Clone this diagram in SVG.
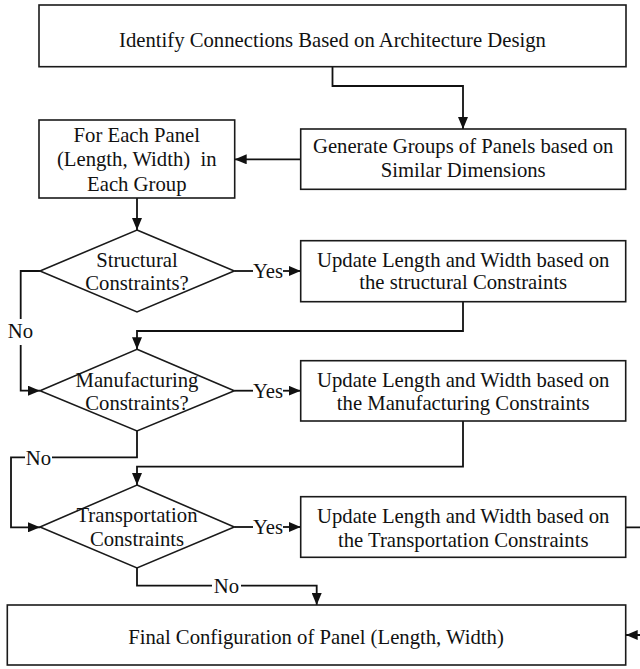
<svg xmlns="http://www.w3.org/2000/svg" width="640" height="669" viewBox="0 0 640 669">
<defs>
<style>
.box{fill:#fff;stroke:#1a1a1a;stroke-width:1.6}
.t{font-family:"Liberation Serif","Times New Roman",serif;font-size:20.7px;fill:#111;text-anchor:middle}
.c{fill:none;stroke:#111;stroke-width:1.8}
</style>
<marker id="ah" viewBox="0 0 12 10" refX="12" refY="5" markerWidth="12" markerHeight="10" markerUnits="userSpaceOnUse" orient="auto">
<path d="M0,0 L12,5 L0,10 z" fill="#111"/>
</marker>
</defs>
<rect width="640" height="669" fill="#fff"/>

<g id="connectors">
<path class="c" d="M332.5,66.7 V86 H463 V129" marker-end="url(#ah)"/>
<path class="c" d="M300.7,159.3 H234.7" marker-end="url(#ah)"/>
<path class="c" d="M137,198 V230" marker-end="url(#ah)"/>
<path class="c" d="M234.3,271 H253"/>
<path class="c" d="M283,271 H300.7" marker-end="url(#ah)"/>
<text class="t" x="268" y="278">Yes</text>
<path class="c" d="M463,301.7 V331 H137 V349.3" marker-end="url(#ah)"/>
<path class="c" d="M40,271 H20.7 V319"/>
<text class="t" x="20.5" y="337.5">No</text>
<path class="c" d="M20.7,345 V390.7 H40" marker-end="url(#ah)"/>
<path class="c" d="M234.3,390.7 H253"/>
<path class="c" d="M283,390.7 H300.7" marker-end="url(#ah)"/>
<text class="t" x="268" y="397.5">Yes</text>
<path class="c" d="M463,421 V466.7 H137 V485" marker-end="url(#ah)"/>
<path class="c" d="M137,431 V457.3 H52"/>
<text class="t" x="38.5" y="465">No</text>
<path class="c" d="M25,457.3 H11 V527.3 H40" marker-end="url(#ah)"/>
<path class="c" d="M234.3,527 H253"/>
<path class="c" d="M283,527 H300.7" marker-end="url(#ah)"/>
<text class="t" x="268" y="534">Yes</text>
<path class="c" d="M137,568 V585.7 H212"/>
<text class="t" x="226.5" y="593">No</text>
<path class="c" d="M241,585.7 H316.7 V605" marker-end="url(#ah)"/>
<path class="c" d="M625.7,527.3 H643 V635 H625.7" marker-end="url(#ah)"/>
</g>

<g id="identify">
<rect class="box" x="39" y="5" width="587" height="61.7"/>
<text class="t" x="332.5" y="46.5">Identify Connections Based on Architecture Design</text>
</g>

<g id="generate">
<rect class="box" x="300.7" y="129" width="325" height="60.3"/>
<text class="t" x="463.2" y="152.7">Generate Groups of Panels based on</text>
<text class="t" x="463.2" y="176.7">Similar Dimensions</text>
</g>

<g id="foreach">
<rect class="box" x="39" y="120" width="195.7" height="78"/>
<text class="t" x="136.8" y="141.7">For Each Panel</text>
<text class="t" x="136.8" y="166" xml:space="preserve">(Length, Width)  in</text>
<text class="t" x="136.8" y="190.5">Each Group</text>
</g>

<g id="structural">
<polygon class="box" points="137,230 234.3,271 137,312 40,271"/>
<text class="t" x="137" y="266.7">Structural</text>
<text class="t" x="137" y="290">Constraints?</text>
</g>

<g id="update-structural">
<rect class="box" x="300.7" y="240.7" width="325" height="61"/>
<text class="t" x="463.2" y="266.7">Update Length and Width based on</text>
<text class="t" x="463.2" y="289">the structural Constraints</text>
</g>

<g id="manufacturing">
<polygon class="box" points="137,349.3 234.3,390.7 137,431 40,390.7"/>
<text class="t" x="137" y="386.7">Manufacturing</text>
<text class="t" x="137" y="410">Constraints?</text>
</g>

<g id="update-manufacturing">
<rect class="box" x="300.7" y="360.7" width="325" height="60.3"/>
<text class="t" x="463.2" y="386.5">Update Length and Width based on</text>
<text class="t" x="463.2" y="410">the Manufacturing Constraints</text>
</g>

<g id="transportation">
<polygon class="box" points="137,485 234.3,527 137,568 40,527"/>
<text class="t" x="137" y="521.7">Transportation</text>
<text class="t" x="137" y="546">Constraints</text>
</g>

<g id="update-transportation">
<rect class="box" x="300.7" y="496.7" width="325" height="60.6"/>
<text class="t" x="463.2" y="522.7">Update Length and Width based on</text>
<text class="t" x="463.2" y="546.7">the Transportation Constraints</text>
</g>

<g id="final">
<rect class="box" x="7.3" y="605" width="618.4" height="60"/>
<text class="t" x="316" y="643.5">Final Configuration of Panel (Length, Width)</text>
</g>
</svg>
